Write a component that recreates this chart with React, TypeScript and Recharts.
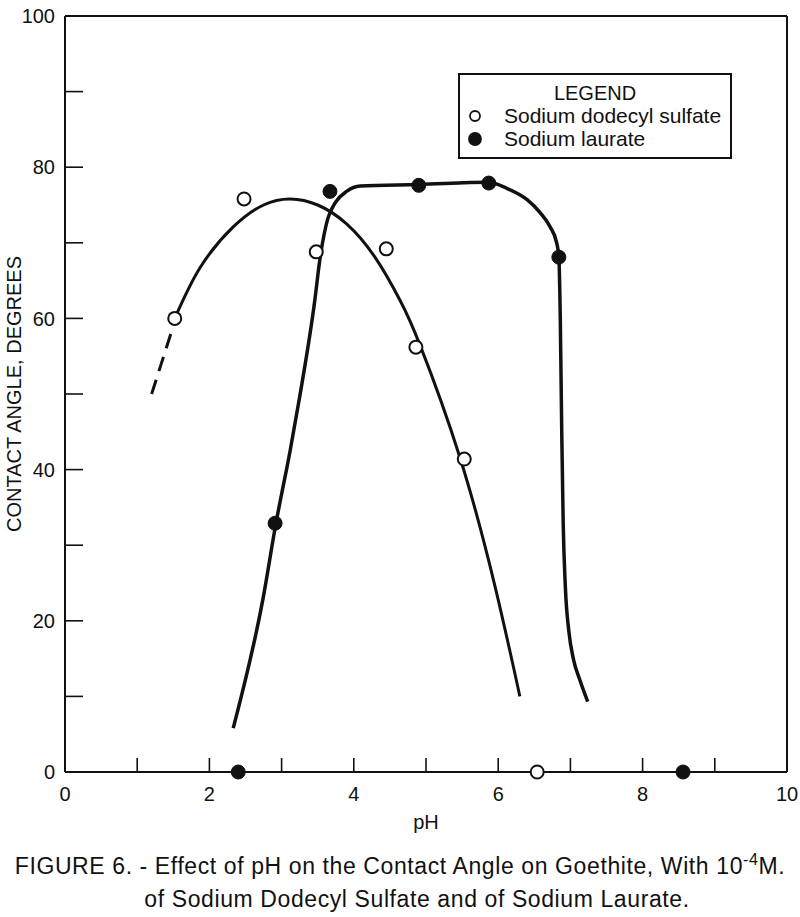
import React from "react";
import { ComposedChart, Line, Scatter, XAxis, YAxis, Legend } from "recharts";

const FONT = '"Liberation Sans", Arial, Helvetica, sans-serif';
const INK = "#111";

// axis ticks (majors labelled, odd ones are minor marks)
const xTicks = [0, 1, 2, 3, 4, 5, 6, 7, 8, 9, 10];
const yTicks = [0, 10, 20, 30, 40, 50, 60, 70, 80, 90, 100];
const topTicks = [1, 2, 3, 4, 5, 6, 7, 8, 9];
const rightTicks = [10, 20, 30, 40, 50, 60, 70, 80, 90];

const sdsName = "Sodium dodecyl sulfate";
const laurateName = "Sodium laurate";

// measured points
const sdsPoints = [
  { x: 1.52, y: 60 },
  { x: 2.48, y: 75.8 },
  { x: 3.48, y: 68.8 },
  { x: 4.45, y: 69.2 },
  { x: 4.86, y: 56.2 },
  { x: 5.53, y: 41.4 },
  { x: 6.54, y: 0 },
];
const lauratePoints = [
  { x: 2.4, y: 0 },
  { x: 2.91, y: 32.9 },
  { x: 3.67, y: 76.8 },
  { x: 4.9, y: 77.6 },
  { x: 5.87, y: 77.9 },
  { x: 6.84, y: 68.1 },
  { x: 8.56, y: 0 },
];

// hand-drawn fitted curves
const sdsDashed = [
  { x: 1.2, y: 50 },
  { x: 1.5, y: 59 },
];
const sdsCurve = [
  { x: 1.52, y: 60 },
  { x: 1.87, y: 66.7 },
  { x: 2.33, y: 72.1 },
  { x: 2.75, y: 75.0 },
  { x: 3.12, y: 75.8 },
  { x: 3.5, y: 75.0 },
  { x: 3.9, y: 72.5 },
  { x: 4.3, y: 68.0 },
  { x: 4.64, y: 62.4 },
  { x: 4.92, y: 56.4 },
  { x: 5.47, y: 41.6 },
  { x: 5.96, y: 24.4 },
  { x: 6.3, y: 10 },
];
const laurateCurve = [
  { x: 2.33, y: 5.8 },
  { x: 2.74, y: 22.8 },
  { x: 2.92, y: 32.8 },
  { x: 3.12, y: 42.6 },
  { x: 3.25, y: 49.6 },
  { x: 3.46, y: 62.4 },
  { x: 3.53, y: 67.8 },
  { x: 3.64, y: 73.2 },
  { x: 3.75, y: 75.4 },
  { x: 3.9, y: 76.8 },
  { x: 4.09, y: 77.5 },
  { x: 4.9, y: 77.7 },
  { x: 5.87, y: 78 },
  { x: 6.12, y: 77.2 },
  { x: 6.4, y: 75.7 },
  { x: 6.58, y: 74.0 },
  { x: 6.72, y: 72.1 },
  { x: 6.81, y: 70 },
  { x: 6.84, y: 68.1 },
  { x: 6.86, y: 60 },
  { x: 6.88, y: 45 },
  { x: 6.9, y: 33 },
  { x: 6.93, y: 24.5 },
  { x: 6.98, y: 18.5 },
  { x: 7.04, y: 15 },
  { x: 7.13, y: 12.2 },
  { x: 7.24, y: 9.3 },
];

const markerFill: Record<string, string> = {
  [sdsName]: "#fff",
  [laurateName]: INK,
};

const OpenDot = (props: any) => (
  <circle cx={props.cx} cy={props.cy} r={6.5} fill="#fff" stroke={INK} strokeWidth={2} />
);
const FilledDot = (props: any) => (
  <circle cx={props.cx} cy={props.cy} r={7} fill={INK} stroke={INK} strokeWidth={1} />
);

const LegendBox = ({ payload }: any) => {
  const items = (payload || []).filter((p: any) => markerFill[p.value]);
  return (
    <div
      style={{
        border: `2px solid ${INK}`,
        background: "#fff",
        width: 274,
        height: 86,
        boxSizing: "border-box",
        fontFamily: FONT,
        color: INK,
      }}
    >
      <div style={{ textAlign: "center", fontSize: 20, lineHeight: "22px", marginTop: 7 }}>
        LEGEND
      </div>
      {items.map((it: any) => (
        <div
          key={it.value}
          style={{ display: "flex", alignItems: "center", height: 23, fontSize: 21 }}
        >
          <svg width={44} height={23}>
            <circle
              cx={15}
              cy={12}
              r={markerFill[it.value] === "#fff" ? 5 : 6}
              fill={markerFill[it.value]}
              stroke={INK}
              strokeWidth={1.8}
            />
          </svg>
          <span>{it.value}</span>
        </div>
      ))}
    </div>
  );
};

const axisLine = { stroke: INK, strokeWidth: 2 };
const tickLine = { stroke: INK, strokeWidth: 1.6 };
const tickText = { fill: INK, fontSize: 20, fontFamily: FONT };

export default function App() {
  return (
    <div style={{ position: "absolute", left: 0, top: 0, width: 800, height: 917, background: "#fff" }}>
      <ComposedChart width={800} height={850} margin={{ top: 15, right: 12, bottom: 18, left: 0 }}>
        <XAxis
          type="number"
          dataKey="x"
          domain={[0, 10]}
          ticks={xTicks}
          interval={0}
          tickFormatter={(v: number) => (v % 2 === 0 ? String(v) : "")}
          tickSize={-14}
          tickMargin={29}
          height={60}
          axisLine={axisLine}
          tickLine={tickLine}
          tick={tickText}
          label={{
            value: "pH",
            position: "insideBottom",
            offset: 3,
            style: { fill: INK, fontSize: 20, fontFamily: FONT },
          }}
        />
        <XAxis
          xAxisId="top"
          orientation="top"
          type="number"
          domain={[0, 10]}
          ticks={topTicks}
          interval={0}
          tickFormatter={() => ""}
          tickSize={-17}
          height={1}
          axisLine={axisLine}
          tickLine={tickLine}
        />
        <YAxis
          type="number"
          domain={[0, 100]}
          ticks={yTicks}
          interval={0}
          tickFormatter={(v: number) => (v % 20 === 0 ? String(v) : "")}
          tickSize={-18}
          tickMargin={28}
          width={65}
          axisLine={axisLine}
          tickLine={tickLine}
          tick={tickText}
          label={{
            value: "CONTACT ANGLE, DEGREES",
            angle: -90,
            position: "insideLeft",
            offset: 14,
            style: { fill: INK, fontSize: 20, fontFamily: FONT, textAnchor: "middle" },
          }}
        />
        <YAxis
          yAxisId="right"
          orientation="right"
          type="number"
          domain={[0, 100]}
          ticks={rightTicks}
          interval={0}
          tickFormatter={() => ""}
          tickSize={-18}
          width={1}
          axisLine={axisLine}
          tickLine={tickLine}
        />
        <Legend
          layout="vertical"
          align="center"
          verticalAlign="middle"
          content={<LegendBox />}
          wrapperStyle={{ left: 458, top: 73, width: 274, height: 86 }}
        />
        <Line
          data={sdsDashed}
          dataKey="y"
          type="linear"
          stroke={INK}
          strokeWidth={3}
          strokeDasharray="15 9"
          dot={false}
          activeDot={false}
          legendType="none"
          isAnimationActive={false}
        />
        <Line
          data={sdsCurve}
          dataKey="y"
          type="natural"
          stroke={INK}
          strokeWidth={3}
          dot={false}
          activeDot={false}
          legendType="none"
          isAnimationActive={false}
        />
        <Line
          data={laurateCurve}
          dataKey="y"
          type="monotone"
          stroke={INK}
          strokeWidth={3.5}
          dot={false}
          activeDot={false}
          legendType="none"
          isAnimationActive={false}
        />
        <Scatter
          name={sdsName}
          data={sdsPoints}
          dataKey="y"
          fill="#fff"
          shape={<OpenDot />}
          isAnimationActive={false}
        />
        <Scatter
          name={laurateName}
          data={lauratePoints}
          dataKey="y"
          fill={INK}
          shape={<FilledDot />}
          isAnimationActive={false}
        />
      </ComposedChart>
      <div
        style={{
          position: "absolute",
          left: 0,
          top: 850,
          width: 800,
          textAlign: "center",
          fontFamily: FONT,
          fontSize: 23,
          lineHeight: "33px",
          color: INK,
          letterSpacing: 0.6,
        }}
      >
        <div>
          FIGURE 6. - Effect of pH on the Contact Angle on Goethite, With 10
          <sup style={{ fontSize: 16, lineHeight: 0 }}>-4</sup>M.
        </div>
        <div style={{ paddingLeft: 34 }}>of Sodium Dodecyl Sulfate and of Sodium Laurate.</div>
      </div>
    </div>
  );
}
